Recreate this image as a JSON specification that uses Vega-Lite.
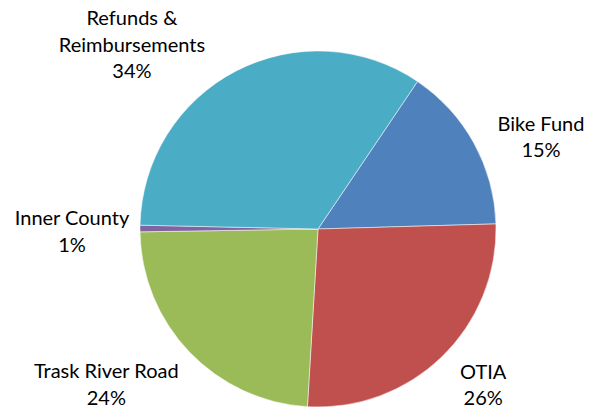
{
  "$schema": "https://vega.github.io/schema/vega-lite/v6.json",
  "autosize": {"type": "none"},
  "padding": {"left": 35, "top": 47, "right": 0, "bottom": 0},
  "width": 566,
  "height": 364,
  "background": "white",
  "view": {"stroke": null},
  "data": {"values": [
    {"idx": 1, "key": "bike", "category": "Bike Fund", "value": 15.1, "label": "Bike Fund\n15%"},
    {"idx": 2, "key": "otia", "category": "OTIA", "value": 26.4, "label": "OTIA\n26%"},
    {"idx": 3, "key": "trask", "category": "Trask River Road", "value": 23.8, "label": "Trask River Road\n24%"},
    {"idx": 4, "key": "inner", "category": "Inner County", "value": 0.6, "label": "Inner County\n1%"},
    {"idx": 5, "key": "refunds", "category": "Refunds & Reimbursements", "value": 34.1, "label": "Refunds &\nReimbursements\n34%"}
  ]},
  "encoding": {
    "theta": {"field": "value", "type": "quantitative", "stack": true, "scale": {"domain": [0, 100], "range": [0.5934, 6.8766]}},
    "order": {"field": "idx", "type": "quantitative"},
    "detail": {"field": "key"}
  },
  "layer": [
    {
      "mark": {"type": "arc", "radius": 178, "stroke": "white", "strokeWidth": 0.5},
      "encoding": {
        "color": {"field": "category", "type": "nominal", "legend": null,
          "scale": {"domain": ["Bike Fund", "OTIA", "Trask River Road", "Inner County", "Refunds & Reimbursements"],
                    "range": ["#4F81BD", "#C0504D", "#9BBB59", "#8064A2", "#4BACC6"]}}
      }
    },
    {
      "mark": {"type": "text", "radius": 210, "dx": 39, "dy": 3, "font": "Lato", "fontSize": 20, "lineBreak": "\n", "lineHeight": 26.5, "align": "center", "baseline": "alphabetic", "fill": "black"},
      "encoding": {"text": {"condition": {"test": "datum.key === 'bike'", "field": "label"}, "value": ""}}
    },
    {
      "mark": {"type": "text", "radius": 210, "dx": 19, "dy": -1, "font": "Lato", "fontSize": 20, "lineBreak": "\n", "lineHeight": 26.5, "align": "center", "baseline": "alphabetic", "fill": "black"},
      "encoding": {"text": {"condition": {"test": "datum.key === 'otia'", "field": "label"}, "value": ""}}
    },
    {
      "mark": {"type": "text", "radius": 210, "dx": -60, "dy": 4, "font": "Lato", "fontSize": 20, "lineBreak": "\n", "lineHeight": 26.5, "align": "center", "baseline": "alphabetic", "fill": "black"},
      "encoding": {"text": {"condition": {"test": "datum.key === 'trask'", "field": "label"}, "value": ""}}
    },
    {
      "mark": {"type": "text", "radius": 210, "dx": -36, "dy": -3, "font": "Lato", "fontSize": 20, "lineBreak": "\n", "lineHeight": 26.5, "align": "center", "baseline": "alphabetic", "fill": "black"},
      "encoding": {"text": {"condition": {"test": "datum.key === 'inner'", "field": "label"}, "value": ""}}
    },
    {
      "mark": {"type": "text", "radius": 210, "dx": -89.5, "dy": -17.5, "font": "Lato", "fontSize": 20, "lineBreak": "\n", "lineHeight": 26.5, "align": "center", "baseline": "alphabetic", "fill": "black"},
      "encoding": {"text": {"condition": {"test": "datum.key === 'refunds'", "field": "label"}, "value": ""}}
    }
  ]
}
